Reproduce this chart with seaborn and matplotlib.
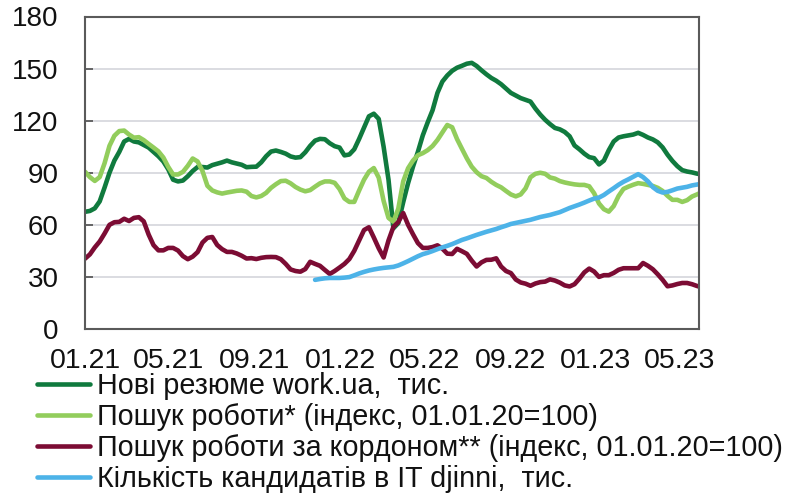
import numpy as np
import pandas as pd
import matplotlib
matplotlib.use("Agg")
import matplotlib.pyplot as plt
import matplotlib.dates as mdates
from matplotlib.lines import Line2D
import seaborn as sns

# ---- data (weekly, starting 2021-01-01) ----
start_date = "2021-01-01"
n_weeks = 127
blue_offset = 47  # djinni series starts later

labels = [
    "Нові резюме work.ua,  тис.",
    "Пошук роботи* (індекс, 01.01.20=100)",
    "Пошук роботи за кордоном** (індекс, 01.01.20=100)",
    "Кількість кандидатів в IT djinni,  тис.",
]
colors = ["#107a3e", "#92cd5c", "#7c0c34", "#4db3e8"]

workua = [67.5,68,69.5,73.5,81.5,90,97,102,108,109.5,
          108,107.5,106,104.5,102,99.5,96.5,92,86,85,
          85.5,88,91,93.3,93.3,93,94.4,95.2,96,97,
          96,95.3,94.6,93.2,93.4,93.5,96,99.5,102.2,102.8,
          102,101,99.4,98.7,99,101.8,105.5,108.5,109.5,109.3,
          107,105.3,104.5,100,100.5,103.5,109.5,116,122.5,124,
          121,105,86,58,61,73,84,93.5,102,111.5,
          119,126,136,142.5,146,148.7,150.5,151.6,152.8,153.3,
          151.5,149,146.7,144.6,143,141,138.5,136,134.5,133,
          132,131,127,123.5,120.5,118,115.8,115,113.5,111,
          105.7,103.5,101,99,98.4,94.8,97,103,108,110.3,
          111,111.5,112,113,111.8,110.3,109.2,107.5,104.6,100.4,
          96.8,93.8,91.5,90.7,90.2,89.5,89]

job_search = [90.6,87.5,85.3,87.5,95.5,105.5,111.3,114,114.3,112,
              110.2,110.5,108.8,106.6,104.5,102.3,98.8,93.4,89,89,
              90.5,94,98.2,96.5,91,82.5,79.8,78.7,78,78.6,
              79.1,79.6,79.8,79.1,76.6,75.8,76.6,78.4,81.3,83.4,
              85.2,85.4,83.9,81.8,80.3,79.3,80,82,83.9,85,
              85,84.2,80.6,75.2,73.2,73.2,79.8,86,90.6,92.7,
              87.2,73.8,64,61.8,69.3,85,92.6,97,100.1,101.3,
              103,105.4,108.9,113.2,117.5,116.2,109.4,103.8,98.3,93.5,
              90.3,88,87,84.8,83,81.6,79.5,77.5,76.4,77.5,
              81,87.4,89.4,90,89.4,87.3,86.6,85.2,84.4,83.8,
              83.3,83,83,82.2,78.2,72.3,69,67.6,70.8,76.6,
              80.7,82,83.1,84,83.6,83,82.4,81.3,79.5,76.7,
              74.4,74.4,73.2,74.2,76.3,77.5,78.8]

job_abroad = [40.5,43,47,50.4,55,60,61.5,61.7,63.5,62.2,
              64,64.4,62,54.4,48.3,45.3,45.3,46.7,46.7,45.2,
              42,40.2,41.7,44.3,49.8,52.5,53,48.4,46,44.4,
              44.4,43.5,42.2,40.6,40.8,40.3,41,41.4,41.5,41.4,
              40.2,37.5,34.3,33.4,33,34.5,38.7,37.5,36.4,34,
              31.7,33.4,35.4,37.5,40.3,45,51,57,58.6,52.7,
              46.5,41.2,51,58.8,61.6,66.8,60,54.6,49.5,46.7,
              46.7,47.2,48.2,46.3,43.4,43.2,46.2,44.8,43.3,39.4,
              36,38.4,39.8,39.9,40.7,36,33.4,32.2,28.5,26.8,
              26.1,24.9,26.2,27,27.3,28.6,27.9,26.7,25.1,24.5,
              25.8,29,32.6,34.8,33.1,30,31,31,32.3,34.1,
              35,35,35,35,38,36.4,34.4,31.5,28.3,24.6,
              25.1,25.9,26.5,26.5,25.8,24.8,24]

djinni = [28.3,28.8,29.2,29.4,29.4,29.4,29.6,29.9,30.9,32,
          32.9,33.7,34.3,34.8,35.2,35.5,35.8,36.6,37.8,39.1,
          40.5,41.9,43.1,43.9,44.9,46,47,47.9,48.9,50.1,
          51.3,52.2,53.2,54.2,55.1,56,56.8,57.6,58.6,59.5,
          60.5,61.1,61.7,62.3,62.9,63.7,64.5,65.1,65.7,66.5,
          67.3,68.5,69.7,70.7,71.7,72.8,74,75.1,75.7,77.2,
          79.2,81.1,83.1,84.8,86.2,87.7,89.2,87.5,85,81.7,
          79.6,78.6,79,79.9,80.9,81.4,81.9,82.7,83.2,83.7]

y_ticks = [0, 30, 60, 90, 120, 150, 180]

# ---- build long table ----
dates = pd.date_range(start_date, periods=n_weeks, freq="7D")
frames = [
    pd.DataFrame({"date": dates, "value": workua, "series": labels[0]}),
    pd.DataFrame({"date": dates, "value": job_search, "series": labels[1]}),
    pd.DataFrame({"date": dates, "value": job_abroad, "series": labels[2]}),
    pd.DataFrame({"date": dates[blue_offset:], "value": djinni, "series": labels[3]}),
]
df = pd.concat(frames, ignore_index=True)

sns.set_theme(style="white")
plt.rcParams["font.family"] = ["Liberation Sans", "DejaVu Sans"]

fig = plt.figure(figsize=(7.92, 4.97), dpi=100)
ax = fig.add_axes([85 / 792, 1 - 329 / 497, 614 / 792, 312.5 / 497])

sns.lineplot(data=df, x="date", y="value", hue="series", hue_order=labels,
             palette=colors, linewidth=3.3, legend=False, ax=ax,
             estimator=None, sort=True)

ax.set_xlim(pd.Timestamp("2021-01-01"), pd.Timestamp("2023-05-29"))
ax.set_ylim(0, 180)
ax.set_yticks(y_ticks)
ax.set_xlabel("")
ax.set_ylabel("")

ax.xaxis.set_major_locator(mdates.MonthLocator(bymonth=[1, 5, 9]))
ax.xaxis.set_major_formatter(mdates.DateFormatter("%m.%y"))
ax.xaxis.set_minor_locator(mdates.MonthLocator(bymonth=[1]))

spine_col = "#5a5a5a"
for s in ax.spines.values():
    s.set_visible(True)
    s.set_color(spine_col)
    s.set_linewidth(1.5)

ax.yaxis.grid(True, color="#d4d6dc", linewidth=1.2)
ax.xaxis.grid(True, which="minor", color="#d4d6dc", linewidth=1.2)
ax.xaxis.grid(False, which="major")
ax.set_axisbelow(True)

ax.tick_params(axis="y", direction="in", length=6, width=1.3, color=spine_col,
               labelsize=20, pad=19, labelcolor="#111111", left=True)
ax.tick_params(axis="x", which="major", length=0, labelsize=20.5, pad=14,
               labelcolor="#111111")
ax.tick_params(axis="x", which="minor", direction="in", length=6, width=1.3,
               color=spine_col, bottom=True)

handles = [Line2D([0], [0], color=c, linewidth=3.3) for c in colors]
fig.legend(handles, labels, loc="upper left",
           bbox_to_anchor=(37 / 792, 1 - 372 / 497),
           frameon=False, fontsize=20.7, handlelength=1.83,
           handletextpad=0.25, labelspacing=0.1, borderpad=0,
           borderaxespad=0, labelcolor="#111111")

fig.savefig("out.png", dpi=100)
